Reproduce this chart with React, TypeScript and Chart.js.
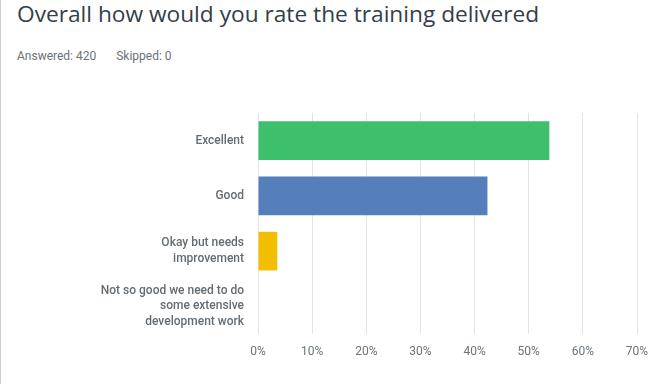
import React, { useEffect, useRef } from "react";
import { Chart, registerables } from "chart.js";

Chart.register(...registerables);

const categories: (string | string[])[] = [
  "Excellent",
  "Good",
  ["Okay but needs", "improvement"],
  ["Not so good we need to do", "some extensive", "development work"],
];
const percentValues: number[] = [53.81, 42.38, 3.57, 0];
const barColors: string[] = ["#3dbf6c", "#547fba", "#f2be00", "#9b9b9b"];
const xTickValues: number[] = [0, 10, 20, 30, 40, 50, 60, 70];

const TITLE = "Overall how would you rate the training delivered";
const ANSWERED = "Answered: 420";
const SKIPPED = "Skipped: 0";

export default function App() {
  const canvasRef = useRef<HTMLCanvasElement | null>(null);

  useEffect(() => {
    const ctx = canvasRef.current;
    if (!ctx) return;
    const chart = new Chart(ctx, {
      type: "bar",
      data: {
        labels: categories,
        datasets: [
          {
            data: percentValues,
            backgroundColor: barColors,
            borderWidth: 0,
            barPercentage: 0.7,
            categoryPercentage: 1,
          },
        ],
      },
      options: {
        indexAxis: "y",
        animation: false,
        responsive: false,
        maintainAspectRatio: false,
        layout: { padding: { left: 0, right: 30, top: 113, bottom: 0 } },
        plugins: {
          legend: { display: false },
          tooltip: { enabled: false },
          title: { display: false },
        },
        scales: {
          x: {
            min: 0,
            max: 70,
            afterBuildTicks: (scale: any) => {
              scale.ticks = xTickValues.map((v) => ({ value: v }));
            },
            afterFit: (scale: any) => {
              scale.height = 50;
            },
            grid: {
              color: "#e3e3e3",
              lineWidth: 1,
              drawTicks: false,
            },
            border: { display: false },
            ticks: {
              padding: 11,
              color: "#6b7378",
              font: { family: "Roboto", size: 12 },
              callback: (v: any) => `${v}%`,
            },
          },
          y: {
            afterFit: (scale: any) => {
              scale.width = 258;
            },
            grid: { display: false, drawTicks: false },
            border: { display: false },
            ticks: {
              padding: 14,
              color: "#646c72",
              font: { family: "Roboto", size: 12, weight: 500, lineHeight: 1.3 },
            },
          },
        },
      },
    });
    return () => chart.destroy();
  }, []);

  return (
    <div
      style={{
        position: "fixed",
        left: 0,
        top: 0,
        width: 667,
        height: 384,
        background: "#ffffff",
        overflow: "hidden",
      }}
    >
      <div
        style={{
          position: "absolute",
          left: 0,
          top: 0,
          width: 1,
          height: 384,
          background: "#cccccc",
        }}
      />
      <div
        style={{
          position: "absolute",
          left: 17,
          top: 1,
          fontFamily: "'Open Sans'",
          fontSize: 22.7,
          lineHeight: "26px",
          color: "#333e48",
          whiteSpace: "nowrap",
        }}
      >
        {TITLE}
      </div>
      <div
        style={{
          position: "absolute",
          left: 17,
          top: 49,
          fontFamily: "Roboto",
          fontSize: 12,
          lineHeight: "14px",
          color: "#6b7378",
          whiteSpace: "nowrap",
        }}
      >
        <span>{ANSWERED}</span>
        <span style={{ marginLeft: 20 }}>{SKIPPED}</span>
      </div>
      <canvas
        ref={canvasRef}
        width={667}
        height={384}
        style={{ position: "absolute", left: 0, top: 0, width: 667, height: 384 }}
      />
    </div>
  );
}
